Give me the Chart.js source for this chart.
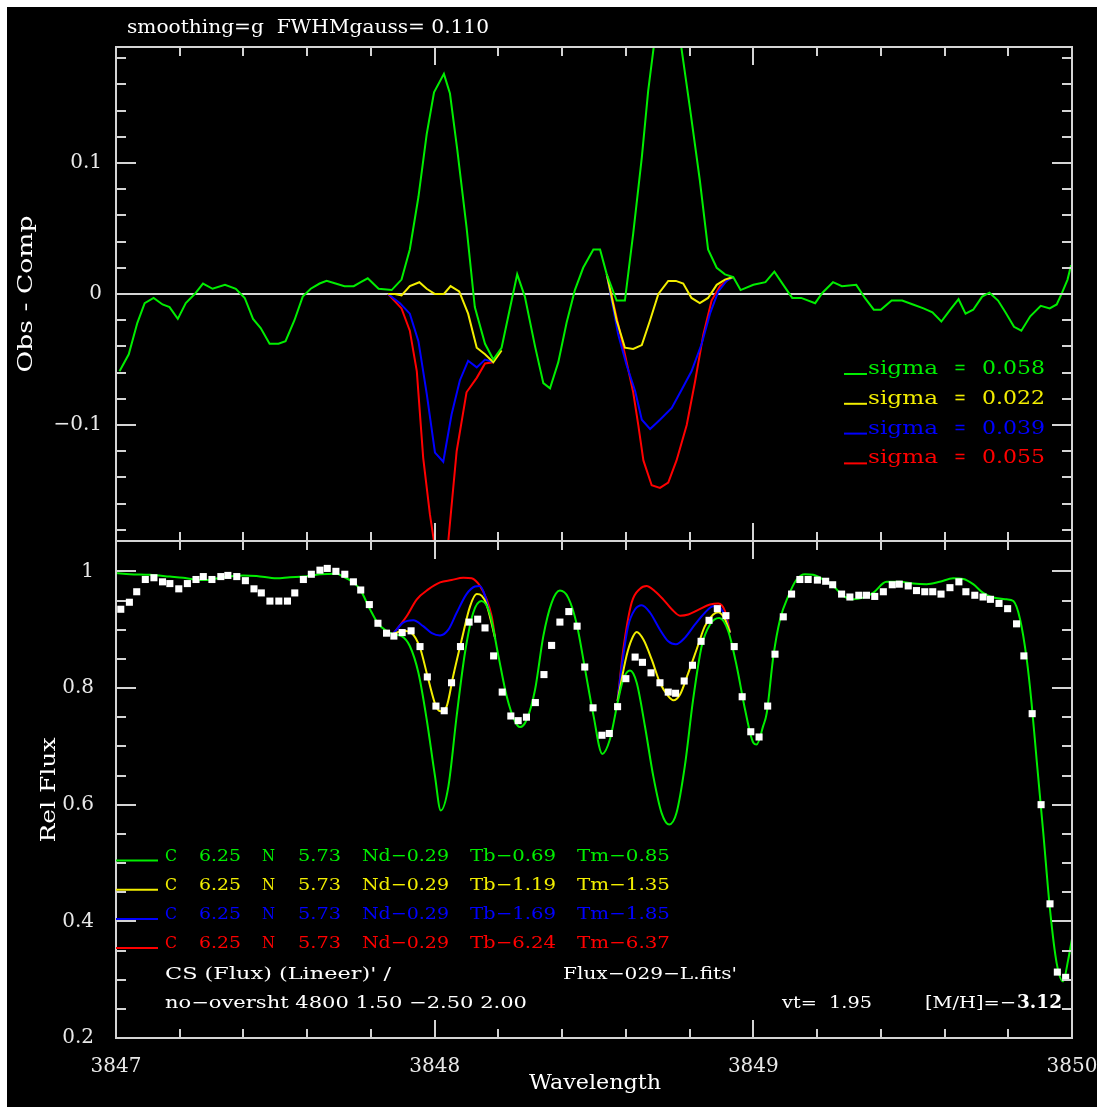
<!DOCTYPE html>
<html>
<head>
<meta charset="utf-8">
<script src="https://cdn.jsdelivr.net/npm/chart.js@4/dist/chart.umd.min.js"></script>
<style>
body { margin: 0; background: #fff; }
#wrap { position: relative; width: 1097px; height: 1107px; overflow: hidden; }
#bg { position: absolute; left: 7px; top: 7px; width: 1090px; height: 1100px; background: #000; }
canvas { position: absolute; left: 0; top: 0; }
</style>
</head>
<body>
<div id="wrap">
  <div id="bg"></div>
  <canvas id="top" width="1097" height="1107"></canvas>
  <canvas id="bot" width="1097" height="1107"></canvas>
</div>
<script>
// ---- data ----
const waveTicks = [3847, 3848, 3849, 3850]
const resTicks = [-0.1, 0, 0.1]
const resTickLabels = ["\u22120.1", "0", "0.1"]
const fluxTicks = [0.2, 0.4, 0.6, 0.8, 1]
const fluxTickLabels = ["0.2", "0.4", "0.6", "0.8", "1"]

// observed spectrum (white squares)
const obsWave = [3847.015, 3847.042, 3847.065, 3847.092, 3847.119, 3847.146, 3847.169, 3847.197, 3847.224, 3847.251,
  3847.274, 3847.301, 3847.329, 3847.351, 3847.379, 3847.406, 3847.433, 3847.456, 3847.483, 3847.511,
  3847.538, 3847.561, 3847.588, 3847.613, 3847.640, 3847.663, 3847.690, 3847.718, 3847.745, 3847.768,
  3847.795, 3847.822, 3847.849, 3847.872, 3847.898, 3847.926, 3847.954, 3847.977, 3848.004, 3848.030,
  3848.053, 3848.081, 3848.108, 3848.135, 3848.158, 3848.185, 3848.212, 3848.239, 3848.262, 3848.288,
  3848.316, 3848.343, 3848.367, 3848.393, 3848.421, 3848.447, 3848.471, 3848.497, 3848.525, 3848.548,
  3848.574, 3848.600, 3848.629, 3848.652, 3848.679, 3848.707, 3848.733, 3848.756, 3848.783, 3848.809,
  3848.836, 3848.861, 3848.887, 3848.914, 3848.940, 3848.965, 3848.992, 3849.018, 3849.045, 3849.068,
  3849.094, 3849.120, 3849.146, 3849.172, 3849.201, 3849.227, 3849.249, 3849.277, 3849.303, 3849.331,
  3849.355, 3849.381, 3849.408, 3849.436, 3849.458, 3849.486, 3849.512, 3849.538, 3849.563, 3849.589,
  3849.617, 3849.645, 3849.667, 3849.695, 3849.721, 3849.744, 3849.771, 3849.798, 3849.826, 3849.849,
  3849.875, 3849.903, 3849.931, 3849.954, 3849.980]
const obsFlux = [0.935, 0.947, 0.965, 0.986, 0.989, 0.982, 0.979, 0.970, 0.979, 0.986,
  0.991, 0.986, 0.991, 0.993, 0.991, 0.984, 0.970, 0.963, 0.949, 0.949,
  0.949, 0.963, 0.986, 0.995, 1.002, 1.005, 1.000, 0.995, 0.982, 0.968,
  0.943, 0.911, 0.894, 0.889, 0.895, 0.898, 0.871, 0.819, 0.769, 0.761,
  0.809, 0.871, 0.913, 0.918, 0.903, 0.855, 0.793, 0.752, 0.744, 0.750,
  0.775, 0.823, 0.873, 0.913, 0.931, 0.906, 0.836, 0.766, 0.719, 0.722,
  0.768, 0.816, 0.853, 0.844, 0.826, 0.809, 0.793, 0.791, 0.812, 0.839,
  0.880, 0.916, 0.936, 0.924, 0.871, 0.785, 0.725, 0.716, 0.769, 0.858,
  0.922, 0.961, 0.986, 0.986, 0.985, 0.983, 0.977, 0.961, 0.956, 0.959,
  0.959, 0.957, 0.965, 0.977, 0.978, 0.975, 0.967, 0.965, 0.965, 0.961,
  0.972, 0.982, 0.965, 0.959, 0.956, 0.952, 0.945, 0.936, 0.910, 0.855,
  0.756, 0.600, 0.430, 0.313, 0.304]

// synthetic spectra (bottom panel)
const modWave = [3847.000, 3847.044, 3847.107, 3847.169, 3847.211, 3847.243, 3847.285, 3847.326, 3847.399, 3847.441,
  3847.504, 3847.546, 3847.588, 3847.640, 3847.693, 3847.713, 3847.745, 3847.766, 3847.797, 3847.823,
  3847.849, 3847.870, 3847.896, 3847.922, 3847.949, 3847.975, 3848.001, 3848.019, 3848.043, 3848.069,
  3848.095, 3848.121, 3848.147, 3848.174, 3848.200, 3848.226, 3848.252, 3848.268, 3848.289, 3848.315,
  3848.341, 3848.367, 3848.393, 3848.419, 3848.446, 3848.472, 3848.498, 3848.526, 3848.550, 3848.576,
  3848.592, 3848.613, 3848.634, 3848.660, 3848.686, 3848.712, 3848.736, 3848.759, 3848.785, 3848.811,
  3848.838, 3848.864, 3848.893, 3848.921, 3848.948, 3848.974, 3849.000, 3849.010, 3849.031, 3849.042,
  3849.063, 3849.084, 3849.110, 3849.136, 3849.162, 3849.188, 3849.219, 3849.251, 3849.282, 3849.313,
  3849.345, 3849.376, 3849.418, 3849.460, 3849.502, 3849.544, 3849.585, 3849.627, 3849.659, 3849.690,
  3849.721, 3849.753, 3849.795, 3849.816, 3849.837, 3849.858, 3849.873, 3849.889, 3849.910, 3849.931,
  3849.952, 3849.972, 3849.988, 3850.000]
const modGreen = [0.997, 0.995, 0.994, 0.991, 0.989, 0.986, 0.985, 0.989, 0.993, 0.992,
  0.988, 0.990, 0.991, 0.995, 0.996, 0.991, 0.981, 0.969, 0.935, 0.910,
  0.898, 0.892, 0.889, 0.872, 0.826, 0.746, 0.649, 0.590, 0.631, 0.752,
  0.860, 0.929, 0.949, 0.926, 0.855, 0.786, 0.743, 0.733, 0.746, 0.797,
  0.889, 0.946, 0.967, 0.955, 0.909, 0.832, 0.754, 0.687, 0.712, 0.780,
  0.815, 0.830, 0.809, 0.734, 0.649, 0.586, 0.566, 0.586, 0.666, 0.780,
  0.872, 0.909, 0.920, 0.898, 0.837, 0.763, 0.706, 0.703, 0.735, 0.757,
  0.855, 0.918, 0.958, 0.986, 0.995, 0.994, 0.986, 0.975, 0.958, 0.952,
  0.955, 0.963, 0.982, 0.982, 0.979, 0.978, 0.982, 0.988, 0.987, 0.978,
  0.963, 0.955, 0.952, 0.949, 0.918, 0.849, 0.775, 0.677, 0.551, 0.420,
  0.328, 0.297, 0.334, 0.370]
// other models only differ from green near the two Tb/Tm blends
const yelWave = [3847.870, 3847.901, 3847.928, 3847.954, 3847.980, 3848.004, 3848.019, 3848.038, 3848.058, 3848.085,
  3848.111, 3848.132, 3848.148, 3848.163, 3848.190, 3848.380,
  3848.574, 3848.602, 3848.618, 3848.634, 3848.655, 3848.681, 3848.707, 3848.733, 3848.749, 3848.770,
  3848.796, 3848.822, 3848.848, 3848.874, 3848.890, 3848.911, 3848.927]
const yelFlux = [0.893, 0.898, 0.894, 0.869, 0.815, 0.769, 0.760, 0.769, 0.820, 0.883,
  0.940, 0.961, 0.958, 0.943, 0.885, null,
  0.778, 0.855, 0.883, 0.896, 0.883, 0.849, 0.809, 0.786, 0.779, 0.789,
  0.826, 0.866, 0.906, 0.926, 0.930, 0.918, 0.895]
const bluWave = [3847.870, 3847.901, 3847.933, 3847.964, 3847.991, 3848.017, 3848.043, 3848.069, 3848.100, 3848.126,
  3848.142, 3848.158, 3848.190, 3848.380,
  3848.574, 3848.587, 3848.607, 3848.629, 3848.650, 3848.676, 3848.707, 3848.733, 3848.757, 3848.785,
  3848.817, 3848.848, 3848.874, 3848.890, 3848.911, 3848.927]
const bluFlux = [0.893, 0.912, 0.916, 0.906, 0.894, 0.890, 0.900, 0.929, 0.961, 0.974,
  0.975, 0.958, 0.885, null,
  0.778, 0.837, 0.906, 0.935, 0.942, 0.929, 0.900, 0.880, 0.875, 0.886,
  0.909, 0.929, 0.940, 0.940, 0.923, 0.895]
const redWave = [3847.870, 3847.912, 3847.944, 3847.980, 3848.017, 3848.053, 3848.090, 3848.116, 3848.142, 3848.163,
  3848.179, 3848.190, 3848.380,
  3848.574, 3848.592, 3848.618, 3848.644, 3848.665, 3848.691, 3848.717, 3848.744, 3848.770, 3848.796,
  3848.827, 3848.864, 3848.890, 3848.911, 3848.927]
const redFlux = [0.893, 0.923, 0.952, 0.969, 0.981, 0.985, 0.989, 0.988, 0.975, 0.952,
  0.923, 0.885, null,
  0.778, 0.866, 0.946, 0.970, 0.975, 0.966, 0.952, 0.935, 0.924, 0.926,
  0.934, 0.943, 0.945, 0.932, 0.895]

// residuals obs - comp (top panel)
const resWave = [3847.011, 3847.040, 3847.067, 3847.090, 3847.118, 3847.146, 3847.168, 3847.194, 3847.219, 3847.247,
  3847.273, 3847.303, 3847.342, 3847.376, 3847.404, 3847.430, 3847.454, 3847.482, 3847.510, 3847.532,
  3847.560, 3847.586, 3847.611, 3847.639, 3847.661, 3847.689, 3847.717, 3847.746, 3847.768, 3847.790,
  3847.824, 3847.865, 3847.896, 3847.922, 3847.949, 3847.975, 3847.998, 3848.029, 3848.048, 3848.071,
  3848.100, 3848.126, 3848.158, 3848.184, 3848.210, 3848.231, 3848.259, 3848.283, 3848.315, 3848.341,
  3848.362, 3848.388, 3848.414, 3848.440, 3848.466, 3848.498, 3848.519, 3848.540, 3848.571, 3848.597,
  3848.623, 3848.650, 3848.670, 3848.696, 3848.723, 3848.748, 3848.773, 3848.801, 3848.832, 3848.858,
  3848.885, 3848.911, 3848.937, 3848.960, 3849.000, 3849.038, 3849.066, 3849.094, 3849.122, 3849.150,
  3849.194, 3849.217, 3849.250, 3849.278, 3849.323, 3849.350, 3849.378, 3849.400, 3849.434, 3849.467,
  3849.501, 3849.534, 3849.562, 3849.590, 3849.618, 3849.644, 3849.666, 3849.690, 3849.718, 3849.741,
  3849.768, 3849.791, 3849.818, 3849.841, 3849.869, 3849.902, 3849.930, 3849.952, 3849.969, 3849.986, 3849.997]
const resGreen = [-0.059, -0.046, -0.022, -0.007, -0.003, -0.008, -0.010, -0.019, -0.007, 0.000,
  0.008, 0.004, 0.007, 0.004, -0.003, -0.019, -0.026, -0.038, -0.038, -0.036,
  -0.020, -0.002, 0.004, 0.008, 0.010, 0.008, 0.006, 0.006, 0.009, 0.012,
  0.004, 0.003, 0.011, 0.034, 0.074, 0.122, 0.154, 0.168, 0.153, 0.110,
  0.051, -0.010, -0.038, -0.050, -0.041, -0.017, 0.015, -0.002, -0.040, -0.068,
  -0.072, -0.052, -0.022, 0.003, 0.020, 0.034, 0.034, 0.015, -0.005, -0.005,
  0.046, 0.104, 0.155, 0.205, 0.225, 0.215, 0.190, 0.142, 0.087, 0.034,
  0.020, 0.015, 0.013, 0.003, 0.007, 0.009, 0.017, 0.007, -0.003, -0.003,
  -0.007, 0.001, 0.009, 0.006, 0.007, -0.003, -0.012, -0.012, -0.005, -0.005,
  -0.008, -0.011, -0.014, -0.021, -0.012, -0.004, -0.015, -0.012, -0.002, 0.001,
  -0.005, -0.014, -0.025, -0.028, -0.017, -0.009, -0.011, -0.008, 0.001, 0.011, 0.022]
const yelResWave = [3847.854, 3847.875, 3847.896, 3847.922, 3847.952, 3847.975, 3848.001, 3848.029, 3848.050, 3848.077,
  3848.105, 3848.132, 3848.158, 3848.184, 3848.210, 3848.380,
  3848.540, 3848.571, 3848.597, 3848.623, 3848.650, 3848.676, 3848.702, 3848.733, 3848.757, 3848.780,
  3848.806, 3848.832, 3848.858, 3848.885, 3848.911, 3848.937]
const yelRes = [0.000, 0.000, -0.001, 0.006, 0.009, 0.004, 0.000, 0.000, 0.006, 0.002,
  -0.015, -0.041, -0.046, -0.052, -0.043, null,
  0.015, -0.020, -0.041, -0.042, -0.039, -0.020, 0.000, 0.010, 0.010, 0.008,
  -0.003, -0.007, -0.003, 0.007, 0.011, 0.013]
const bluResWave = [3847.854, 3847.891, 3847.922, 3847.949, 3847.975, 3848.001, 3848.027, 3848.053, 3848.079, 3848.105,
  3848.132, 3848.158, 3848.184, 3848.380,
  3848.540, 3848.576, 3848.602, 3848.629, 3848.650, 3848.676, 3848.707, 3848.744, 3848.775, 3848.806,
  3848.838, 3848.864, 3848.890, 3848.916, 3848.937]
const bluRes = [0.000, -0.007, -0.015, -0.036, -0.076, -0.121, -0.128, -0.092, -0.066, -0.051,
  -0.056, -0.050, -0.052, null,
  0.015, -0.031, -0.054, -0.074, -0.096, -0.103, -0.096, -0.087, -0.073, -0.059,
  -0.038, -0.015, 0.002, 0.010, 0.013]
const redResWave = [3847.854, 3847.896, 3847.922, 3847.944, 3847.964, 3847.985, 3848.001, 3848.021, 3848.043, 3848.069,
  3848.100, 3848.132, 3848.158, 3848.184, 3848.380,
  3848.540, 3848.571, 3848.597, 3848.623, 3848.639, 3848.655, 3848.681, 3848.707, 3848.733, 3848.759,
  3848.791, 3848.817, 3848.843, 3848.869, 3848.895, 3848.921, 3848.937]
const redRes = [0.000, -0.011, -0.028, -0.059, -0.125, -0.168, -0.194, -0.235, -0.188, -0.120,
  -0.075, -0.064, -0.053, -0.052, null,
  0.015, -0.018, -0.046, -0.075, -0.100, -0.127, -0.146, -0.148, -0.144, -0.127,
  -0.100, -0.067, -0.031, -0.005, 0.006, 0.011, 0.013]

// legend values per model (green, yellow, blue, red)
const sigmas = ["0.058", "0.022", "0.039", "0.055"]
const tbVals = ["0.69", "1.19", "1.69", "6.24"]
const tmVals = ["0.85", "1.35", "1.85", "6.37"]

const GREEN = "#00ee00"
const YELLOW = "#f2ee00"
const BLUE = "#0000ff"
const RED = "#ff0000"
const modelColors = [GREEN, YELLOW, BLUE, RED]
const FRAME = "#d4d4d4"
const FONT = "'DejaVu Serif'"

Chart.defaults.font.family = FONT
Chart.defaults.color = "#e8e8e8"

function pts(w, v) {
  return w.map((x, i) => ({x: x, y: v[i]}))
}

// stretch a string to a given width (the plot font is wide)
function txt(ctx, s, x, y, w, color, font) {
  ctx.save()
  ctx.font = font
  ctx.fillStyle = color
  ctx.textAlign = "left"
  ctx.textBaseline = "alphabetic"
  var m = ctx.measureText(s).width
  ctx.translate(x, y)
  if (w) ctx.scale(w / m, 1)
  ctx.fillText(s, 0, 0)
  ctx.restore()
}

function vtxt(ctx, s, cx, cy, len, font) {
  ctx.save()
  ctx.font = font
  ctx.fillStyle = "#ffffff"
  ctx.textAlign = "center"
  ctx.textBaseline = "middle"
  var m = ctx.measureText(s).width
  ctx.translate(cx, cy)
  ctx.rotate(-Math.PI / 2)
  ctx.scale(len / m, 1)
  ctx.fillText(s, 0, 0)
  ctx.restore()
}

// box + inward tick marks, pgplot style
function drawFrame(chart, yStep, yK0, yK1, yMajorEvery) {
  const ctx = chart.ctx, a = chart.chartArea
  const xs = chart.scales.x, ys = chart.scales.y
  ctx.save()
  ctx.strokeStyle = FRAME
  ctx.lineWidth = 2
  ctx.strokeRect(a.left, a.top, a.right - a.left, a.bottom - a.top)
  ctx.beginPath()
  for (let k = 0; k <= 15; k++) {
    const px = Math.round(xs.getPixelForValue(3847 + k * 0.2))
    const len = k % 5 == 0 ? 18 : 9
    ctx.moveTo(px, a.top); ctx.lineTo(px, a.top + len)
    ctx.moveTo(px, a.bottom); ctx.lineTo(px, a.bottom - len)
  }
  for (let k = yK0; k <= yK1; k++) {
    const py = Math.round(ys.getPixelForValue(k * yStep))
    if (py < a.top + 2 || py > a.bottom - 2) continue
    const len = k % yMajorEvery == 0 ? 20 : 10
    ctx.moveTo(a.left, py); ctx.lineTo(a.left + len, py)
    ctx.moveTo(a.right, py); ctx.lineTo(a.right - len, py)
  }
  ctx.stroke()
  ctx.restore()
}

const topDecor = {
  id: "topDecor",
  afterDraw(chart) {
    const ctx = chart.ctx
    drawFrame(chart, 0.02, -9, 9, 5)
    txt(ctx, "smoothing=g  FWHMgauss= 0.110", 127, 33, 362, "#ffffff", "18px " + FONT)
    vtxt(ctx, "Obs - Comp", 27, 294, 157, "20px " + FONT)
    // sigma legend
    for (let i = 0; i < 4; i++) {
      const y = 374 + i * 29.8
      ctx.save()
      ctx.strokeStyle = modelColors[i]
      ctx.lineWidth = 2
      ctx.beginPath(); ctx.moveTo(844, y); ctx.lineTo(867, y); ctx.stroke()
      ctx.restore()
      txt(ctx, "sigma", 868, y, 70, modelColors[i], "19px " + FONT)
      txt(ctx, "=", 954, y, 12, modelColors[i], "19px " + FONT)
      txt(ctx, sigmas[i], 982, y, 63, modelColors[i], "19px " + FONT)
    }
  }
}

const botDecor = {
  id: "botDecor",
  afterDraw(chart) {
    const ctx = chart.ctx
    drawFrame(chart, 0.05, 4, 21, 4)
    vtxt(ctx, "Rel Flux", 50, 790, 105, "20px " + FONT)
    txt(ctx, "Wavelength", 529, 1089, 132, "#ffffff", "20px " + FONT)
    const f = "17px " + FONT
    for (let i = 0; i < 4; i++) {
      const y = 860.5 + i * 29.2
      const c = modelColors[i]
      ctx.save()
      ctx.strokeStyle = c
      ctx.lineWidth = 2
      ctx.beginPath(); ctx.moveTo(116, y); ctx.lineTo(158, y); ctx.stroke()
      ctx.restore()
      txt(ctx, "C", 165, y, 12, c, f)
      txt(ctx, "6.25", 199, y, 42, c, f)
      txt(ctx, "N", 262, y, 13, c, f)
      txt(ctx, "5.73", 298, y, 43, c, f)
      txt(ctx, "Nd\u22120.29", 362, y, 87, c, f)
      txt(ctx, "Tb\u2212" + tbVals[i], 470, y, 86, c, f)
      txt(ctx, "Tm\u2212" + tmVals[i], 577, y, 93, c, f)
    }
    txt(ctx, "CS (Flux) (Lineer)' /", 165, 979, 226, "#ffffff", f)
    txt(ctx, "Flux\u2212029\u2212L.fits'", 563, 979, 174, "#ffffff", f)
    txt(ctx, "no\u2212oversht 4800 1.50 \u22122.50 2.00", 165, 1008, 362, "#ffffff", f)
    txt(ctx, "vt=  1.95", 782, 1008, 90, "#ffffff", f)
    txt(ctx, "[M/H]=\u2212", 925, 1008, 91, "#ffffff", f)
    txt(ctx, "3.12", 1017, 1008, 45, "#ffffff", "bold 18px " + FONT)
  }
}

function line(w, v, color, smooth) {
  return {
    data: pts(w, v),
    borderColor: color,
    borderWidth: 2,
    pointRadius: 0,
    tension: 0,
    cubicInterpolationMode: smooth ? "monotone" : "default",
    spanGaps: false
  }
}

const tickFont = {family: FONT, size: 20}

// ---- top panel: residuals ----
new Chart(document.getElementById("top"), {
  type: "line",
  data: {
    datasets: [
      line(resWave, resGreen, GREEN, false),
      line(yelResWave, yelRes, YELLOW, false),
      line(bluResWave, bluRes, BLUE, false),
      line(redResWave, redRes, RED, false)
    ]
  },
  options: {
    responsive: false,
    animation: false,
    devicePixelRatio: 1,
    layout: {padding: {top: 47, bottom: 566, left: 0, right: 25}},
    plugins: {legend: {display: false}, tooltip: {enabled: false}},
    scales: {
      x: {type: "linear", min: 3847, max: 3850, display: false},
      y: {
        type: "linear", min: -0.1885, max: 0.1885,
        afterBuildTicks: (s) => { s.ticks = resTicks.map(v => ({value: v})) },
        afterFit: (s) => { s.width = 116; s.paddingTop = 0; s.paddingBottom = 0 },
        ticks: {font: tickFont, color: "#e8e8e8", padding: 14, callback: (v, i) => resTickLabels[i]},
        grid: {drawTicks: false, lineWidth: 2, color: (c) => c.tick && Math.abs(c.tick.value) < 1e-9 ? FRAME : "transparent"},
        border: {display: false}
      }
    }
  },
  plugins: [topDecor]
})

// ---- bottom panel: spectra ----
new Chart(document.getElementById("bot"), {
  type: "line",
  data: {
    datasets: [
      {data: pts(obsWave, obsFlux), showLine: false, pointStyle: "rect", pointRadius: 5,
       pointBackgroundColor: "#ffffff", pointBorderWidth: 0},
      line(modWave, modGreen, GREEN, true),
      line(yelWave, yelFlux, YELLOW, true),
      line(bluWave, bluFlux, BLUE, true),
      line(redWave, redFlux, RED, true)
    ]
  },
  options: {
    responsive: false,
    animation: false,
    devicePixelRatio: 1,
    layout: {padding: {top: 541, bottom: 0, left: 0, right: 25}},
    plugins: {legend: {display: false}, tooltip: {enabled: false}},
    scales: {
      x: {
        type: "linear", min: 3847, max: 3850,
        afterBuildTicks: (s) => { s.ticks = waveTicks.map(v => ({value: v})) },
        afterFit: (s) => { s.height = 69; s.paddingLeft = 0; s.paddingRight = 0 },
        ticks: {font: tickFont, color: "#e8e8e8", padding: 9, maxRotation: 0, autoSkip: false, callback: (v) => String(v)},
        grid: {display: false},
        border: {display: false}
      },
      y: {
        type: "linear", min: 0.2, max: 1.052,
        afterBuildTicks: (s) => { s.ticks = fluxTicks.map(v => ({value: v})) },
        afterFit: (s) => { s.width = 116; s.paddingTop = 0; s.paddingBottom = 0 },
        ticks: {font: tickFont, color: "#e8e8e8", padding: 14, callback: (v, i) => fluxTickLabels[i]},
        grid: {display: false},
        border: {display: false}
      }
    }
  },
  plugins: [botDecor]
})
</script>
</body>
</html>
